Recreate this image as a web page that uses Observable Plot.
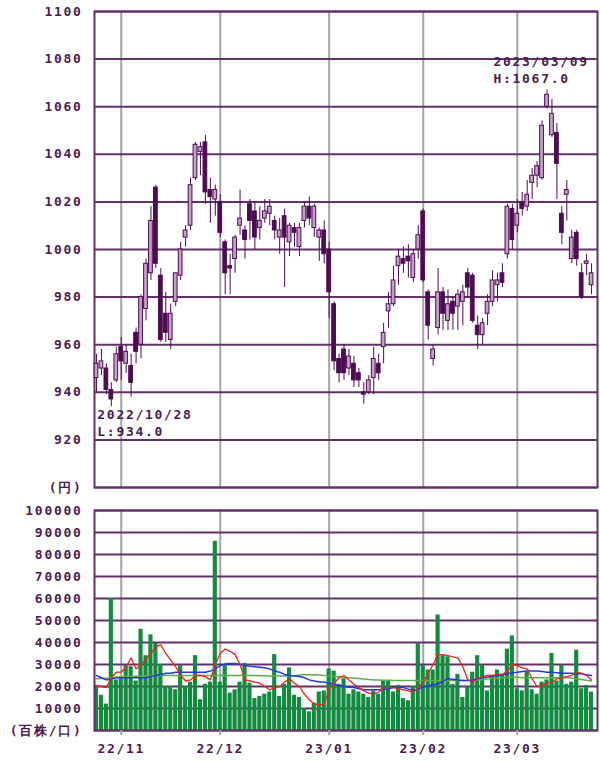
<!DOCTYPE html>
<html><head><meta charset="utf-8">
<script src="https://cdn.jsdelivr.net/npm/d3@7"></script>
<script src="https://cdn.jsdelivr.net/npm/@observablehq/plot@0.6"></script>
<style>
html,body{margin:0;padding:0;background:#fff;}
#chart{position:relative;width:600px;height:762px;overflow:hidden;background:#fff;}
#chart svg{position:absolute;left:0;}
</style></head><body><div id="chart"></div>
<script>
// ---- data ----
const dates = [
"2022-10-25","2022-10-26","2022-10-27","2022-10-28","2022-10-31",
"2022-11-01","2022-11-02","2022-11-04","2022-11-07","2022-11-08","2022-11-09","2022-11-10","2022-11-11","2022-11-14","2022-11-15",
"2022-11-16","2022-11-17","2022-11-18","2022-11-21","2022-11-22","2022-11-24","2022-11-25","2022-11-28","2022-11-29","2022-11-30",
"2022-12-01","2022-12-02","2022-12-05","2022-12-06","2022-12-07","2022-12-08","2022-12-09","2022-12-12","2022-12-13","2022-12-14","2022-12-15",
"2022-12-16","2022-12-19","2022-12-20","2022-12-21","2022-12-22","2022-12-23","2022-12-26","2022-12-27","2022-12-28","2022-12-29","2022-12-30",
"2023-01-04","2023-01-05","2023-01-06","2023-01-10","2023-01-11","2023-01-12","2023-01-13","2023-01-16","2023-01-17","2023-01-18",
"2023-01-19","2023-01-20","2023-01-23","2023-01-24","2023-01-25","2023-01-26","2023-01-27","2023-01-30","2023-01-31",
"2023-02-01","2023-02-02","2023-02-03","2023-02-06","2023-02-07","2023-02-08","2023-02-09","2023-02-10","2023-02-13","2023-02-14",
"2023-02-15","2023-02-16","2023-02-17","2023-02-20","2023-02-21","2023-02-22","2023-02-24","2023-02-27","2023-02-28",
"2023-03-01","2023-03-02","2023-03-03","2023-03-06","2023-03-07","2023-03-08","2023-03-09","2023-03-10","2023-03-13","2023-03-14",
"2023-03-15","2023-03-16","2023-03-17","2023-03-20","2023-03-22","2023-03-23"
];
const open = [946,950,950,941,945,959,952,951,965,960,975,990,1026,989,973,962,978,989,1005,1010,
1030,1041,1045,1025,1021,1020,1003,993,996,1010,1008,1019,1016,1009,1013,1015,1012,1005,1014,1003,
1009,1001,1012,1018,1009,1005,1008,1000,977,954,958,950,952,948,940,940,946,952,959,974,
977,993,996,997,988,1000,1016,982,954,967,982,970,978,976,978,990,989,968,964,973,
978,985,990,998,1017,1010,1020,1018,1028,1031,1030,1060,1048,1049,1015,1023,996,1007,990,994,985];
const high = [956,958,952,944,959,963,960,956,967,981,996,1018,1027,992,982,977,990,1003,1010,1030,
1045,1045,1048,1030,1027,1023,1004,998,1006,1025,1010,1021,1020,1018,1021,1021,1014,1013,1017,1011,
1011,1011,1020,1022,1019,1009,1012,1003,978,956,960,958,955,950,944,947,959,956,969,982,
993,1000,1001,1002,1000,1010,1017,983,960,992,984,983,980,983,985,992,990,972,971,981,
991,990,994,1019,1019,1021,1024,1029,1034,1037,1054,1067,1063,1053,1018,1029,1008,1008,994,998,994];
const low = [940,947,939,934,944,945,948,938,952,954,970,987,992,961,961,958,976,987,1001,1008,
1029,1031,1019,1011,1014,1005,981,981,990,1006,996,1004,1000,1004,1011,1010,1004,998,984,997,
1001,997,1009,1010,1005,995,994,971,949,944,945,947,942,942,935,939,939,945,952,967,
976,985,990,988,986,996,986,962,951,964,966,966,966,966,968,980,969,958,960,968,
976,978,984,996,1000,1007,1014,1016,1021,1026,1029,1059,1047,1021,1002,1012,994,993,979,989,981];
const close = [952,953,941,937,956,953,957,944,957,980,994,1012,994,962,965,973,990,1000,1008,1027,
1044,1043,1024,1022,1025,1007,990,992,1005,1013,1004,1012,1005,1012,1016,1018,1008,1008,1005,1010,
1007,1009,1018,1013,1018,1008,998,982,953,948,948,955,945,945,939,945,954,948,965,977,
987,997,994,995,998,1006,987,968,958,982,973,977,973,981,982,984,970,964,969,978,
987,987,986,1018,1004,1015,1017,1023,1031,1035,1052,1065,1057,1036,1007,1025,1005,996,980,995,990];
const volume = [20500,16000,12000,60000,23000,23500,29500,29000,22500,46000,
34000,43500,39500,30000,20000,20000,18500,29500,20000,22000,
34000,14000,21000,22000,86000,22000,29500,17000,18500,22000,
30500,21500,14500,15500,16500,17500,34500,15500,21000,28500,
16000,15000,10000,8500,12500,17500,18000,28000,27000,21000,
23500,16500,18500,17500,16500,15000,18000,16500,22500,22500,
17500,20500,14500,13500,20000,39500,29500,27500,27500,52500,
34000,33500,21000,25500,15000,20000,26500,34000,29500,18000,
25000,27500,25500,37000,43000,19000,18000,26500,18500,16500,
22000,23000,35000,22500,29500,21000,22000,36500,19000,20500,17500];
const maShort = [20500,20000,19500,24000,26500,26500,29000,33000,28000,30000,
32500,35000,38000,39000,35000,32000,29000,25000,22500,23000,
25000,25000,24500,23000,30000,35000,37000,36000,34500,30000,
23000,22500,22000,21500,20000,18500,19500,20000,22000,23500,
21500,20000,16500,14000,12000,11500,12000,19000,21500,24000,
25000,23000,21000,19500,18000,17000,16500,17500,19500,19500,
19500,19000,18500,18000,17500,19500,22000,26000,30000,34500,
34500,34000,33500,33000,29000,23000,22000,23500,24500,25000,
25000,25500,25500,27000,30000,29500,28500,28000,23500,20000,
20500,21500,22000,23500,24000,24500,25000,26500,26000,25000,23000];
const maMid = [25000,24000,23000,23500,24000,24000,24000,24000,24000,24000,
24000,24500,25000,25500,26000,26000,26500,26500,26500,26500,
26500,26500,26500,27000,28000,29500,30300,30500,30500,30000,
29500,29200,29000,28800,28500,28000,27000,26500,25500,25000,
24800,24500,24000,23000,22500,22000,22000,21500,21000,20500,
20000,19700,19500,19000,18500,18500,18500,18500,18800,19000,
19500,19700,19500,18800,18300,18800,19700,20300,20800,21200,
22500,23500,23300,23000,22700,22700,23000,23500,24000,24300,
24700,25000,25300,25800,26300,26500,26800,27000,27000,27000,
26800,26500,26500,26300,26000,26000,26000,25800,25800,25300,25000];
const maLong = [23500,23600,23800,24000,24200,24400,24500,24600,24700,24800,
24900,25000,25000,25000,25000,25000,25000,25000,25000,25000,
25000,25000,25000,25000,25000,25000,25000,25000,25000,25000,
25000,25000,25000,24900,24900,24800,24800,24800,24800,24800,
24900,25200,25300,25300,25300,25200,25000,24800,24600,24400,
24200,24000,23800,23600,23400,23200,23000,22900,22800,22800,
22700,22700,22700,22700,22700,22700,22700,22700,22700,22700,
22700,22700,22700,22700,22700,22700,22800,23000,23200,23400,
23600,23800,24000,24100,24200,24200,24000,24000,24000,24000,
24000,24000,24000,24000,24000,24000,23800,23500,23200,22800,22500];
const monthKeys = ["2022-11","2022-12","2023-01","2023-02","2023-03"];
const monthLabels = ["22/11","22/12","23/01","23/02","23/03"];
const priceTicks = [900,920,940,960,980,1000,1020,1040,1060,1080,1100];
const volumeTicks = [0,10000,20000,30000,40000,50000,60000,70000,80000,90000,100000];
const priceUnitLabel = "(円)";
const volumeUnitLabel = "(百株/口)";
const lowNote = [{date:"2022-10-28", label:"2022/10/28", prefix:"L:", value:934.0}];
const highNote = [{date:"2023-03-09", label:"2023/03/09", prefix:"H:", value:1067.0}];

// ---- build ----
const rows = dates.map((d, i) => ({i, date:d, open:open[i], high:high[i], low:low[i], close:close[i],
  volume:volume[i], maShort:maShort[i], maMid:maMid[i], maLong:maLong[i]}));
const monthIdx = monthKeys.map(k => dates.findIndex(d => d.startsWith(k)));
const idxOf = d => dates.indexOf(d.date);

const PURPLE = "#64306a", TEXT = "#4a1c50", GRAY = "#a4a4a4";
const DARK = "#4e0c52", LIGHT = "#c4a2c8", GREEN = "#128a40";
const xDomain = [-0.4, 101.2];
const font = "font-family:'DejaVu Sans Mono',monospace;font-size:13px;font-weight:bold;letter-spacing:1.7px;color:" + TEXT + ";background:transparent;";

const price = Plot.plot({
  width: 600, height: 500, marginLeft: 94, marginRight: 3, marginTop: 11, marginBottom: 13,
  style: font,
  x: {type: "linear", domain: xDomain, axis: null},
  y: {domain: [900, 1100], axis: null},
  marks: [
    Plot.ruleX(monthIdx, {stroke: GRAY, strokeWidth: 2}),
    Plot.ruleY(priceTicks, {stroke: PURPLE, strokeWidth: 2}),
    Plot.frame({stroke: PURPLE, strokeWidth: 2}),
    Plot.axisY({ticks: priceTicks, tickSize: 0, tickPadding: 12, fill: TEXT, label: null,
      tickFormat: d => d === priceTicks[0] ? priceUnitLabel : String(d)}),
    Plot.ruleX(rows, {x: "i", y1: "low", y2: "high", stroke: DARK, strokeWidth: 1}),
    Plot.rect(rows, {x1: d => d.i - 0.38, x2: d => d.i + 0.38, y1: "open", y2: "close",
      fill: d => d.close >= d.open ? LIGHT : DARK, stroke: DARK, strokeWidth: 1}),
    Plot.text(lowNote, {x: idxOf, y: "value", text: d => d.label + "\n" + d.prefix + d.value.toFixed(1),
      textAnchor: "start", lineAnchor: "bottom", lineHeight: 1.31, dx: -14, dy: 29.5, fill: TEXT}),
    Plot.text(highNote, {x: idxOf, y: "value", text: d => d.label + "\n" + d.prefix + d.value.toFixed(1),
      textAnchor: "start", lineAnchor: "bottom", lineHeight: 1.31, dx: -53.5, dy: -7, fill: TEXT})
  ]
});
price.style.top = "0px";

const vol = Plot.plot({
  width: 600, height: 262, marginLeft: 94, marginRight: 3, marginTop: 10, marginBottom: 32,
  style: font,
  x: {type: "linear", domain: xDomain, axis: null},
  y: {domain: [0, 100000], axis: null},
  marks: [
    Plot.ruleX(monthIdx, {stroke: GRAY, strokeWidth: 2}),
    Plot.ruleY(volumeTicks, {stroke: PURPLE, strokeWidth: 2}),
    Plot.rect(rows, {x1: d => d.i - 0.42, x2: d => d.i + 0.42, y1: 0, y2: "volume", fill: GREEN}),
    Plot.line(rows, {x: "i", y: "maLong", stroke: "#5cb04c", strokeWidth: 1.5}),
    Plot.line(rows, {x: "i", y: "maMid", stroke: "#2438e0", strokeWidth: 1.5}),
    Plot.line(rows, {x: "i", y: "maShort", stroke: "#e8261c", strokeWidth: 1.3}),
    Plot.frame({stroke: PURPLE, strokeWidth: 2}),
    Plot.axisY({ticks: volumeTicks, tickSize: 0, tickPadding: 12, fill: TEXT, label: null,
      tickFormat: d => d === 0 ? volumeUnitLabel : String(d)}),
    Plot.axisX({ticks: monthIdx, tickSize: 5, tickPadding: 8, stroke: GRAY, strokeWidth: 2, fill: TEXT, label: null,
      tickFormat: d => monthLabels[monthIdx.indexOf(d)]})
  ]
});
vol.style.top = "500px";

const root = document.getElementById("chart");
root.appendChild(price);
root.appendChild(vol);
</script></body></html>
